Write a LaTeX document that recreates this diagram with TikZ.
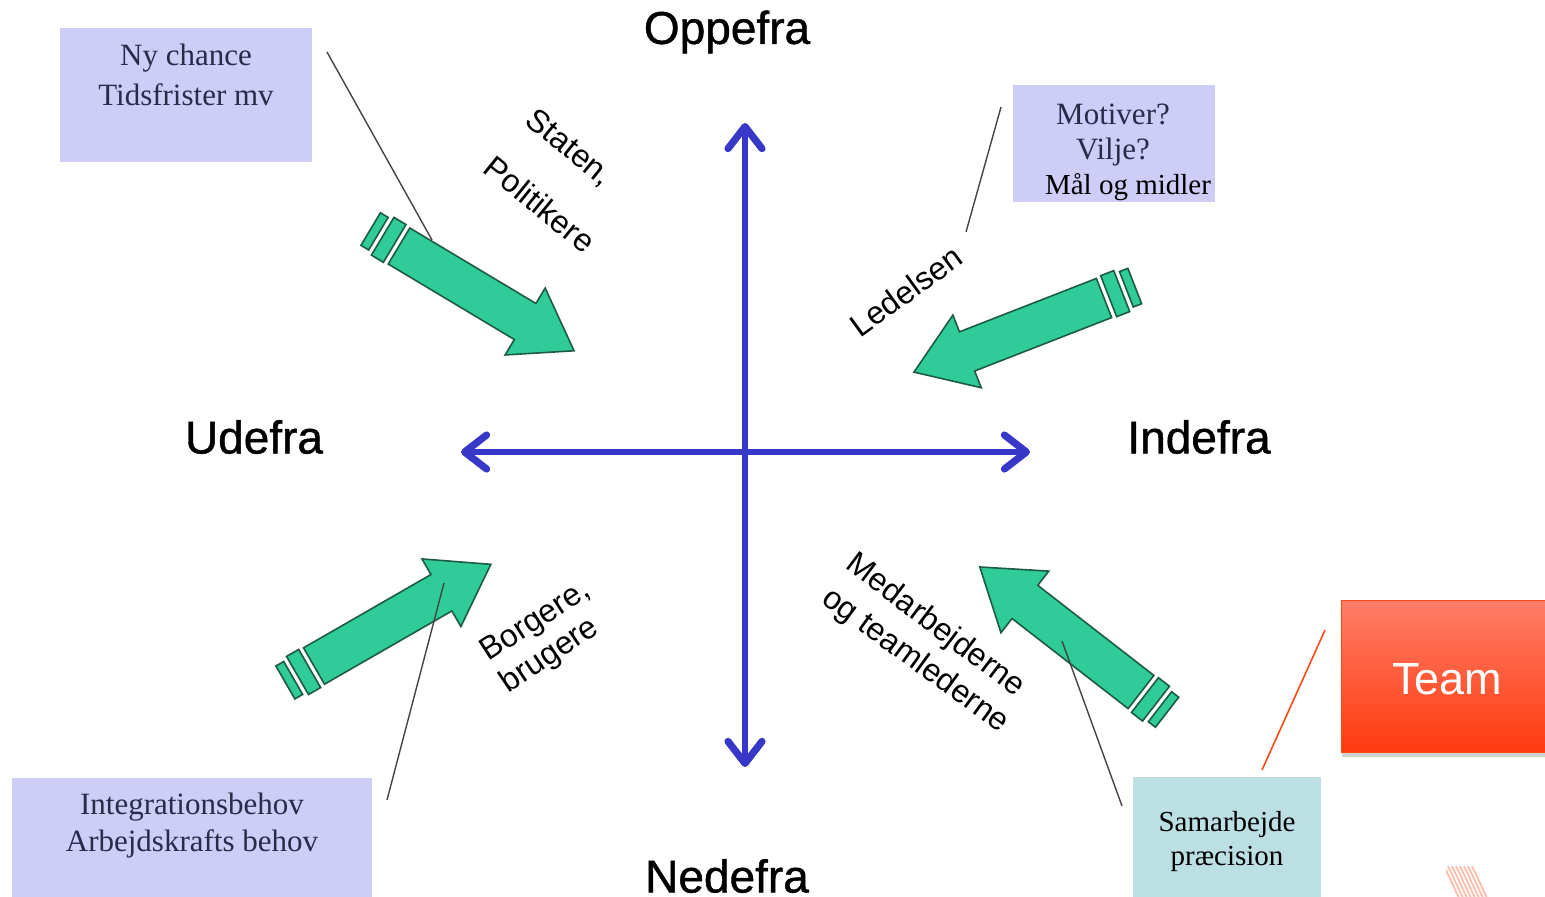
\documentclass[tikz,border=0pt]{standalone}
\usepackage{fontspec}
\setmainfont{Liberation Serif}
\newfontfamily\arial{Liberation Sans}
\newfontfamily\arialheavy[FakeBold=1]{Liberation Sans}
\usetikzlibrary{arrows.meta,shadows}
\definecolor{axisblue}{HTML}{3838C8}
\definecolor{arrowgreen}{HTML}{2FCB98}
\definecolor{arrowedge}{HTML}{1D5C42}
\definecolor{lavender}{HTML}{CDCDF8}
\definecolor{paleteal}{HTML}{BBDFE3}
\definecolor{boxtext}{HTML}{2A2A4A}
\definecolor{teamtop}{HTML}{FF7E68}
\definecolor{teambottom}{HTML}{FF3A0E}
\definecolor{teamedge}{HTML}{FF4A18}
\definecolor{leader}{HTML}{444444}
\tikzset{
  axistip/.tip={Straight Barb[length=11pt,width=17pt,line width=3.6pt,round]},
  axis/.style={draw=axisblue, line width=2.6pt, line cap=round, axistip-axistip},
  heading/.style={font=\arialheavy\fontsize{23}{26}\selectfont, text=black, inner sep=0pt},
  sideword/.style={font=\arial\fontsize{16}{18}\selectfont, text=black, inner sep=0pt},
  notebox/.style={fill=lavender, draw=none, inner sep=0pt, anchor=north west},
  notetext/.style={font=\fontsize{15.5}{18}\selectfont, text=boxtext, inner sep=0pt},
  leaderline/.style={draw=leader, line width=0.7pt},
  fatarrow/.pic={
    \path[fill=arrowgreen, draw=arrowedge, line width=0.8pt, line join=miter]
      (0,-21) -- (147,-21) -- (147,-39) -- (204,0) -- (147,39) -- (147,21) -- (0,21) -- cycle;
    \path[fill=arrowgreen, draw=arrowedge, line width=0.8pt]
      (-19,-22) rectangle (-5,22);
    \path[fill=arrowgreen, draw=arrowedge, line width=0.8pt]
      (-33,-19) rectangle (-24,19);
  }
}
\begin{document}
\begin{tikzpicture}[x=0.5pt, y=-0.5pt]
  \useasboundingbox (0,0) rectangle (1545,896);
  \fill[white] (0,0) rectangle (1545,896);

  % axes
  \coordinate (top) at (745,123);
  \coordinate (bottom) at (745,767);
  \coordinate (left) at (461,452);
  \coordinate (right) at (1030,452);
  \draw[axis] (bottom) -- (top);
  \draw[axis] (left) -- (right);

  % direction headings
  \node[heading] (oppefra) at (727,32) {Oppefra};
  \node[heading] (nedefra) at (727,876) {Nedefra};
  \node[heading] (udefra) at (254,437) {Udefra};
  \node[heading] (indefra) at (1199,437) {Indefra};

  % green pressure arrows
  \pic[rotate=-30.9] (arrowNW) at (399,246) {fatarrow};
  \pic[rotate=-158.7] (arrowNE) at (1104,298) {fatarrow};
  \pic[rotate=29.9] (arrowSW) at (314,666) {fatarrow};
  \pic[rotate=142.2] (arrowSE) at (1141,692) {fatarrow};

  % slanted source labels
  \node[sideword, rotate=-39] (staten) at (569,148) {Staten,};
  \node[sideword, rotate=-39] (politikere) at (540,204) {Politikere};
  \node[sideword, rotate=36] (ledelsen) at (906,291) {Ledelsen};
  \node[sideword, rotate=33] (borgere) at (536,622) {Borgere,};
  \node[sideword, rotate=34] (brugere) at (550,656) {brugere};
  \node[sideword, rotate=-37] (medarb) at (935,626) {Medarbejderne};
  \node[sideword, rotate=-36] (teamled) at (915,661) {og teamlederne};

  % note boxes
  \node[notebox, minimum width=126pt, minimum height=67pt] (nybox) at (60,28) {};
  \node[notetext] (ny1) at (186,58) {Ny chance};
  \node[notetext] (ny2) at (186,95) {Tidsfrister mv};

  \node[notebox, minimum width=101pt, minimum height=58.5pt] (motbox) at (1013,85) {};
  \node[notetext] (mot1) at (1113,114) {Motiver?};
  \node[notetext] (mot2) at (1113,152) {Vilje?};
  \node[notetext, text=black, font=\fontsize{14.5}{17}\selectfont] (mot3) at (1128,187) {Mål og midler};

  \node[notebox, minimum width=180pt, minimum height=60pt] (intbox) at (12,778) {};
  \node[notetext] (int1) at (192,807) {Integrationsbehov};
  \node[notetext] (int2) at (192,844) {Arbejdskrafts behov};

  \node[notebox, fill=paleteal, minimum width=94pt, minimum height=60pt] (sambox) at (1133,777) {};
  \node[notetext, text=black, font=\fontsize{14.5}{17}\selectfont] (sam1) at (1227,825) {Samarbejde};
  \node[notetext, text=black, font=\fontsize{14.5}{17}\selectfont] (sam2) at (1227,859) {præcision};

  % team box
  \node[anchor=north west, minimum width=102pt, minimum height=76pt, inner sep=0pt,
        top color=teamtop, bottom color=teambottom, draw=teamedge, line width=0.5pt,
        drop shadow={opacity=0.35, shadow xshift=0pt, shadow yshift=-2pt}]
        (teambox) at (1341,600) {};
  \node[font=\arial\fontsize{22.5}{26}\selectfont, text=white, inner sep=0pt] (teamtext) at (1447,679) {Team};

  % leader lines
  \coordinate (l1a) at (327,52);   \coordinate (l1b) at (432,240);
  \coordinate (l2a) at (1001,107); \coordinate (l2b) at (966,232);
  \coordinate (l3a) at (387,800);  \coordinate (l3b) at (444,583);
  \coordinate (l4a) at (1122,806); \coordinate (l4b) at (1062,641);
  \coordinate (l5a) at (1262,770); \coordinate (l5b) at (1325,630);
  \draw[leaderline] (l1a) -- (l1b);
  \draw[leaderline] (l2a) -- (l2b);
  \draw[leaderline] (l3a) -- (l3b);
  \draw[leaderline] (l4a) -- (l4b);
  \draw[draw=teamedge, line width=0.8pt] (l5a) -- (l5b);

  % corner logo stripes
  \begin{scope}
    \clip (1446,866) rectangle (1495,896);
    \foreach \i in {0,...,7} {
      \draw[draw=teamedge!60, opacity=0.6, line width=0.9pt] (1444+4*\i,866) -- (1460+4*\i,900);
    }
  \end{scope}
\end{tikzpicture}
\end{document}
